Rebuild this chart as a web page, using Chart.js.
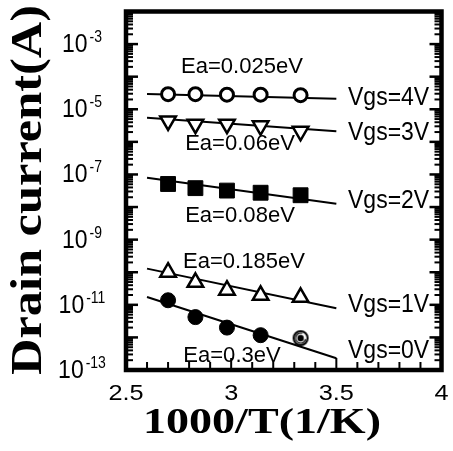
<!DOCTYPE html>
<html><head><meta charset="utf-8">
<script src="https://cdn.jsdelivr.net/npm/chart.js@4.4.0/dist/chart.umd.min.js"></script>
<style>html,body{margin:0;padding:0;background:#fff;overflow:hidden}#wrap{width:453px;height:451px}</style>
</head><body><div id="wrap"><canvas id="c" width="453" height="451"></canvas></div>
<script>
// ---- data ----
const invT = [2.70, 2.83, 2.98, 3.14, 3.33];          // 1000/T (1/K)
const fitX = [2.6, 3.5];                              // fitted line range
const vgs4 = [2.9e-5, 2.9e-5, 2.8e-5, 2.8e-5, 2.7e-5];
const vgs4Fit = [2.95e-5, 2.1e-5];
const vgs3 = [4.4e-6, 3.5e-6, 3.5e-6, 3.1e-6, 2.1e-6];
const vgs3Fit = [5.5e-6, 2.1e-6];
const vgs2 = [5.1e-8, 3.8e-8, 3.2e-8, 2.75e-8, 2.3e-8];
const vgs2Fit = [7.9e-8, 1.26e-8];
const vgs1 = [1.0e-10, 4.9e-11, 2.8e-11, 1.95e-11, 1.7e-11];
const vgs1Fit = [1.29e-10, 7.9e-12];
const vgs0 = [1.38e-11, 4.2e-12, 2.0e-12, 1.17e-12, 9.5e-13];
const vgs0Fit = [1.74e-11, 2.3e-13];
const xTicks = [2.5, 3, 3.5, 4];
const xTickLabels = ['2.5', '3', '3.5', '4'];
const yTickExps = [-3, -5, -7, -9, -11, -13];
const eaLabels = ['Ea=0.025eV', 'Ea=0.06eV', 'Ea=0.08eV', 'Ea=0.185eV', 'Ea=0.3eV'];
const vgsLabels = ['Vgs=4V', 'Vgs=3V', 'Vgs=2V', 'Vgs=1V', 'Vgs=0V'];
const xTitle = '1000/T(1/K)';
const yTitle = 'Drain current(A)';

// ---- layout (pixel positions of annotations) ----
const eaPos = [[242, 73], [240, 150], [240, 222], [244, 268], [232, 362]];
const vgsPos = [[348, 105], [348, 140], [348, 208], [348, 312], [348, 358]];

function pts(xs, ys) { return xs.map((x, i) => ({ x: x, y: ys[i] })); }

// special marker for the last Vgs=0V point (ring with inner mark)
const special = document.createElement('canvas');
special.width = 18; special.height = 18;
(function () {
  const g = special.getContext('2d');
  g.fillStyle = '#fff'; g.strokeStyle = '#000'; g.lineWidth = 2;
  g.beginPath(); g.arc(9, 9, 7, 0, Math.PI * 2); g.fill(); g.stroke();
  g.beginPath(); g.arc(9, 9, 3.2, 0, Math.PI * 2); g.fillStyle = '#000'; g.fill();
  g.lineWidth = 1.2; g.beginPath(); g.arc(9, 9, 5, 0.2, Math.PI * 1.6); g.stroke();
})();

const lineDs = (ys) => ({ type: 'scatter', data: pts(fitX, ys), showLine: true, borderColor: '#000', borderWidth: 2, pointRadius: 0, order: 2 });
const datasets = [
  lineDs(vgs4Fit), lineDs(vgs3Fit), lineDs(vgs2Fit), lineDs(vgs1Fit), lineDs(vgs0Fit),
  { data: pts(invT, vgs4), pointStyle: 'circle', pointRadius: 6.5, pointBorderWidth: 3, pointBackgroundColor: '#fff', pointBorderColor: '#000', showLine: false, order: 1 },
  { data: pts(invT, vgs3), pointStyle: 'triangle', rotation: 180, pointRadius: 9, pointBorderWidth: 2.5, pointBackgroundColor: '#fff', pointBorderColor: '#000', showLine: false, order: 1 },
  { data: pts(invT, vgs2), pointStyle: 'rect', pointRadius: 10.5, pointBorderWidth: 1, pointBackgroundColor: '#000', pointBorderColor: '#000', showLine: false, order: 1 },
  { data: pts(invT, vgs1), pointStyle: 'triangle', pointRadius: 9, pointBorderWidth: 2.5, pointBackgroundColor: '#fff', pointBorderColor: '#000', showLine: false, order: 1 },
  { data: pts(invT, vgs0), pointStyle: ['circle', 'circle', 'circle', 'circle', special], pointRadius: 7.5, pointBorderWidth: 1, pointBackgroundColor: '#000', pointBorderColor: '#000', showLine: false, order: 1 }
];

function txt(ctx, s, x, y, font, align, sx, sy) {
  ctx.save(); ctx.translate(x, y); ctx.scale(sx || 1, sy || 1);
  ctx.font = font; ctx.textAlign = align || 'left'; ctx.textBaseline = 'alphabetic';
  ctx.fillStyle = '#000'; ctx.fillText(s, 0, 0); ctx.restore();
}

const decor = {
  id: 'decor',
  afterDraw(chart) {
    const ctx = chart.ctx, a = chart.chartArea, xs = chart.scales.x, ys = chart.scales.y;
    ctx.save();
    ctx.strokeStyle = '#000'; ctx.lineCap = 'butt';
    // x ticks (inside, bottom)
    ctx.lineWidth = 2;
    for (let i = 0; i <= 15; i++) {
      const v = 2.5 + i * 0.1, px = xs.getPixelForValue(v);
      const len = (i % 5 === 0) ? 12 : 8;
      ctx.beginPath(); ctx.moveTo(px, a.bottom); ctx.lineTo(px, a.bottom - len); ctx.stroke();
    }
    // y ticks (inside, left and right)
    for (let e = -13; e < -2; e++) {
      for (let m = 1; m <= 9; m++) {
        const py = ys.getPixelForValue(m * Math.pow(10, e));
        const len = m === 1 ? 12 : 7;
        ctx.lineWidth = m === 1 ? 2.5 : 2;
        ctx.beginPath(); ctx.moveTo(a.left, py); ctx.lineTo(a.left + len, py); ctx.stroke();
        ctx.beginPath(); ctx.moveTo(a.right, py); ctx.lineTo(a.right - len, py); ctx.stroke();
      }
    }
    // frame
    ctx.lineWidth = 4.5;
    ctx.strokeRect(a.left, a.top, a.right - a.left, a.bottom - a.top);
    // x tick labels
    xTicks.forEach((v, i) => {
      txt(ctx, xTickLabels[i], xs.getPixelForValue(v), 400, '22px "Liberation Sans", Arial, sans-serif', 'center', 1.15, 1);
    });
    // y tick labels 10^n
    yTickExps.forEach(e => {
      const py = ys.getPixelForValue(Math.pow(10, e));
      ctx.font = '23px "Liberation Sans", Arial, sans-serif';
      const wb = ctx.measureText('10').width;
      ctx.font = '14px "Liberation Sans", Arial, sans-serif';
      const sup = String(e);
      const ws = ctx.measureText(sup).width;
      const total = wb + 2 + ws, x0 = 82 - total / 2;
      txt(ctx, '10', x0, py + 8, '23px "Liberation Sans", Arial, sans-serif', 'left', 1, 1.12);
      txt(ctx, sup, x0 + wb + 2, py - 2, '14px "Liberation Sans", Arial, sans-serif', 'left', 1, 1.12);
    });
    // annotations
    eaLabels.forEach((s, i) => txt(ctx, s, eaPos[i][0], eaPos[i][1], '21px "Liberation Sans", Arial, sans-serif', 'center', 1.05, 1.02));
    vgsLabels.forEach((s, i) => txt(ctx, s, vgsPos[i][0], vgsPos[i][1], '23px "Liberation Sans", Arial, sans-serif', 'left', 1, 1.1));
    // axis titles
    ctx.save();
    ctx.translate(41, 190); ctx.rotate(-Math.PI / 2);
    txt(ctx, yTitle, 0, 0, 'bold 45px "Liberation Serif", "Times New Roman", serif', 'center', 1.12, 1);
    ctx.restore();
    txt(ctx, xTitle, 262, 433, 'bold 36px "Liberation Serif", "Times New Roman", serif', 'center', 1.28, 1.02);
    ctx.restore();
  }
};

new Chart(document.getElementById('c'), {
  type: 'scatter',
  data: { datasets: datasets },
  options: {
    responsive: false, animation: false, devicePixelRatio: 1,
    layout: { padding: { top: 10, right: 8, left: 0, bottom: 0 } },
    plugins: { legend: { display: false }, tooltip: { enabled: false } },
    scales: {
      x: { type: 'linear', min: 2.5, max: 4, grid: { display: false }, border: { display: false },
           ticks: { display: false }, afterFit: s => { s.height = 81; } },
      y: { type: 'logarithmic', min: 1e-13, max: 1e-2, grid: { display: false }, border: { display: false },
           ticks: { display: false }, afterFit: s => { s.width = 126; } }
    }
  },
  plugins: [decor]
});
</script></body></html>
